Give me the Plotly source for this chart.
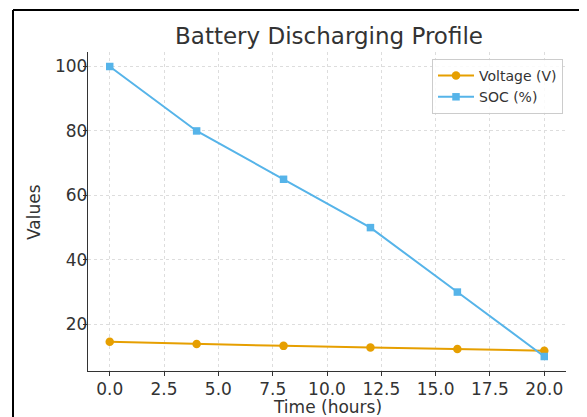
import plotly.graph_objects as go

time_hours = [0, 4, 8, 12, 16, 20]
voltage = [14.6, 13.9, 13.3, 12.8, 12.3, 11.8]
soc = [100, 80, 65, 50, 30, 10]
x_ticks = [0, 2.5, 5, 7.5, 10, 12.5, 15, 17.5, 20]
x_tick_labels = ["0.0", "2.5", "5.0", "7.5", "10.0", "12.5", "15.0", "17.5", "20.0"]
y_ticks = [20, 40, 60, 80, 100]

# page is offset by the 8px body margin; work in figure pixels
OFF = 8
W, H = 587, 417
L = 88 - OFF
R = W - (566 - OFF)
T = 52 - OFF
B = H - (371 - OFF)
pw, ph = W - L - R, H - T - B

fig = go.Figure()
fig.add_trace(go.Scatter(x=time_hours, y=voltage, mode="lines+markers", name="Voltage (V)",
                         line=dict(color="#E69F00", width=2),
                         marker=dict(symbol="circle", size=8.5, color="#E69F00")))
fig.add_trace(go.Scatter(x=time_hours, y=soc, mode="lines+markers", name="SOC (%)",
                         line=dict(color="#56B4E9", width=2),
                         marker=dict(symbol="square", size=7.5, color="#56B4E9")))

font = "DejaVu Sans, Verdana, sans-serif"
axis_common = dict(showline=True, linecolor="#333333", linewidth=1.3, ticks="outside",
                   ticklen=4, tickcolor="#333333", tickwidth=1.2,
                   showgrid=True, gridcolor="#dddddd", griddash="3px,3px", gridwidth=0.8,
                   zeroline=False, mirror=False, automargin=False,
                   tickfont=dict(size=17, color="#333333", family=font))
fig.update_xaxes(range=[-1, 21], tickvals=x_ticks, ticktext=x_tick_labels,
                 ticklabelstandoff=-2, **axis_common)
fig.update_yaxes(range=[5.5, 104.5], tickvals=y_ticks, ticklabelstandoff=-8, **axis_common)

def px_x(p):
    return (p - OFF - L) / pw

def px_y(p):
    return (H - B - (p - OFF)) / ph

fig.update_layout(
    width=W, height=H,
    margin=dict(l=L, r=R, t=T, b=B),
    paper_bgcolor="white", plot_bgcolor="white",
    font=dict(family=font, color="#333333"),
    title=dict(text="Battery Discharging Profile", x=(329 - OFF) / W, xanchor="center",
               y=1 - (36 - OFF) / H, yanchor="middle", font=dict(size=23, color="#333333", family=font)),
    showlegend=True,
    legend=dict(x=px_x(563), y=px_y(59), xanchor="right", yanchor="top",
                bgcolor="rgba(255,255,255,0.85)", bordercolor="#cccccc", borderwidth=1,
                itemwidth=36,
                font=dict(size=14, color="#333333", family=font), tracegroupgap=2),
    annotations=[
        dict(text="Time (hours)", xref="paper", yref="paper", x=px_x(327), y=px_y(407),
             xanchor="center", yanchor="middle", showarrow=False,
             font=dict(size=17, color="#333333", family=font)),
        dict(text="Values", xref="paper", yref="paper", x=px_x(34), y=px_y(212),
             xanchor="center", yanchor="middle", showarrow=False, textangle=-90,
             font=dict(size=17, color="#333333", family=font)),
    ],
    shapes=[
        dict(type="line", xref="paper", yref="paper", x0=px_x(13), x1=px_x(13),
             y0=px_y(10), y1=px_y(430), line=dict(color="black", width=2)),
        dict(type="line", xref="paper", yref="paper", x0=px_x(13), x1=px_x(600),
             y0=px_y(10), y1=px_y(10), line=dict(color="black", width=2)),
    ],
)

fig.write_html("out.html")
